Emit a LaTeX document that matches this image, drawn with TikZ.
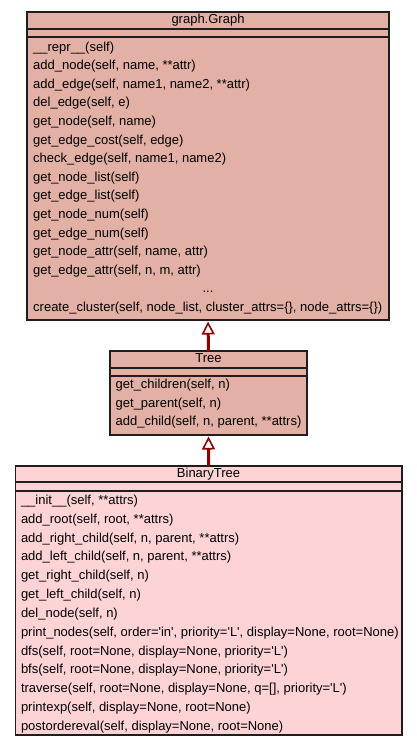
\documentclass[tikz,border=0pt]{standalone}
\usepackage{fontspec}
\setmainfont{Liberation Sans}
\usetikzlibrary{arrows.meta}
\definecolor{graphfill}{RGB}{226,176,164}
\definecolor{btfill}{RGB}{253,211,214}
\definecolor{edgecol}{RGB}{140,0,0}
\definecolor{bordercol}{RGB}{30,30,30}
\tikzset{
  classbox/.style={draw=bordercol, line width=1.5pt, rectangle, inner sep=0pt, outer sep=0pt, anchor=north west},
  divider/.style={draw=bordercol, line width=1.5pt},
  mtext/.style={anchor=base west, inner sep=0pt, font=\fontsize{13}{15}\selectfont},
  ttext/.style={anchor=base, inner sep=0pt, font=\fontsize{13}{15}\selectfont},
  inherit/.style={draw=edgecol, line width=3pt, -{Triangle[length=13pt, width=13pt, fill=white, line width=1.6pt]}},
}
\begin{document}
\begin{tikzpicture}[x=1pt, y=-1pt]
\useasboundingbox (0,0) rectangle (416,747);
% graph.Graph
\node[classbox, fill=graphfill, minimum width=362pt, minimum height=308pt] (graph) at (27,12) {};
\draw[divider] (27,29) -- (389,29);
\draw[divider] (27,37) -- (389,37);
\node[ttext] (graphtitle) at (208,23) {graph.Graph};
\foreach \m [count=\i] in {
  {\_\_repr\_\_(self)},
  {add\_node(self, name, **attr)},
  {add\_edge(self, name1, name2, **attr)},
  {del\_edge(self, e)},
  {get\_node(self, name)},
  {get\_edge\_cost(self, edge)},
  {check\_edge(self, name1, name2)},
  {get\_node\_list(self)},
  {get\_edge\_list(self)},
  {get\_node\_num(self)},
  {get\_edge\_num(self)},
  {get\_node\_attr(self, name, attr)},
  {get\_edge\_attr(self, n, m, attr)}} {
  \node[mtext] (gm\i) at (33,{51+(\i-1)*18.6}) {\m};
}
\node[ttext] (gdots) at (208,{51+13*18.6}) {...};
\node[mtext] (gm15) at (33,{51+14*18.6}) {create\_cluster(self, node\_list, cluster\_attrs=\{\}, node\_attrs=\{\})};
% Tree
\node[classbox, fill=graphfill, minimum width=197pt, minimum height=84pt] (tree) at (110,351) {};
\draw[divider] (110,368) -- (307,368);
\draw[divider] (110,376) -- (307,376);
\node[ttext] (treetitle) at (208.5,362) {Tree};
\foreach \m [count=\i] in {
  {get\_children(self, n)},
  {get\_parent(self, n)},
  {add\_child(self, n, parent, **attrs)}} {
  \node[mtext] (tm\i) at (115.5,{388.3+(\i-1)*18.8}) {\m};
}
% BinaryTree
\node[classbox, fill=btfill, minimum width=386.5pt, minimum height=269pt] (btree) at (15.3,466) {};
\draw[divider] (15.3,482) -- (401.8,482);
\draw[divider] (15.3,491) -- (401.8,491);
\node[ttext] (bttitle) at (208.5,477) {BinaryTree};
\foreach \m [count=\i] in {
  {\_\_init\_\_(self, **attrs)},
  {add\_root(self, root, **attrs)},
  {add\_right\_child(self, n, parent, **attrs)},
  {add\_left\_child(self, n, parent, **attrs)},
  {get\_right\_child(self, n)},
  {get\_left\_child(self, n)},
  {del\_node(self, n)},
  {print\_nodes(self, order=\textquotesingle in\textquotesingle, priority=\textquotesingle L\textquotesingle, display=None, root=None)},
  {dfs(self, root=None, display=None, priority=\textquotesingle L\textquotesingle)},
  {bfs(self, root=None, display=None, priority=\textquotesingle L\textquotesingle)},
  {traverse(self, root=None, display=None, q=[], priority=\textquotesingle L\textquotesingle)},
  {printexp(self, display=None, root=None)},
  {postordereval(self, display=None, root=None)}} {
  \node[mtext] (bm\i) at (20.8,{504.5+(\i-1)*18.83}) {\m};
}
% inheritance
\draw[inherit] (tree.north) -- ([yshift=-1.5pt]graph.south);
\draw[inherit] (btree.north) -- ([yshift=-1.5pt]tree.south);
\end{tikzpicture}
\end{document}
